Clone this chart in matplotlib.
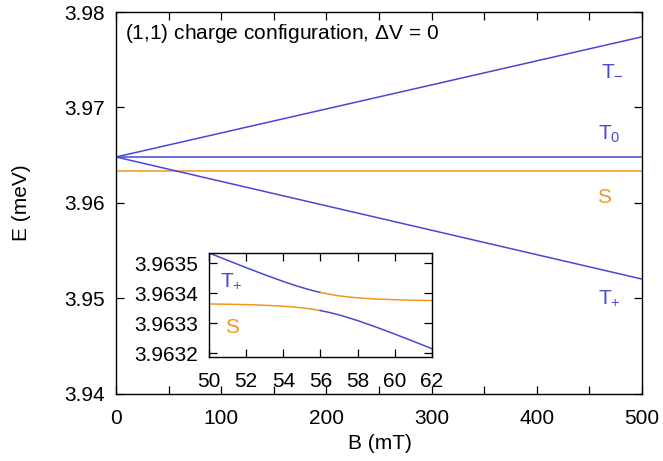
import numpy as np
import matplotlib
matplotlib.use('Agg')
import matplotlib.pyplot as plt
from matplotlib.ticker import MultipleLocator, FormatStrFormatter

plt.rcParams['font.family'] = ['Liberation Sans', 'DejaVu Sans']
plt.rcParams['mathtext.default'] = 'regular'

BLUE = '#4848d4'
ORANGE = '#f2961e'

# main panel: energies of the four (1,1) states versus field
b_main = [0, 500]
e_tminus = [3.96480, 3.97740]
e_t0 = [3.96478, 3.96478]
e_s = [3.96335, 3.96335]
e_tplus = [3.96480, 3.95200]

# inset: anticrossing of T+ and S near 56 mT
b_inset = [50, 51, 52, 53, 54, 54.5, 55, 55.5, 56, 56.5, 57, 57.5, 58, 59, 60, 61, 62]
e_upper = [3.9635342, 3.9635096, 3.9634853, 3.9634617, 3.9634393, 3.9634288,
           3.9634191, 3.9634103, 3.9634027, 3.9633964, 3.9633915, 3.9633877,
           3.9633848, 3.9633809, 3.9633785, 3.9633769, 3.9633758]
e_lower = [3.9633645, 3.9633636, 3.9633622, 3.9633602, 3.9633570, 3.9633547,
           3.9633517, 3.9633476, 3.9633425, 3.9633359, 3.9633281, 3.9633190,
           3.9633091, 3.9632874, 3.9632642, 3.9632402, 3.9632157]
b_switch = 56

FS = 15

fig = plt.figure(figsize=(6.63, 4.61), dpi=100)
ax = fig.add_axes([0.175, 0.1464, 0.7933, 0.8275])

ax.plot(b_main, e_tminus, color=BLUE, lw=1.1)
ax.plot(b_main, e_t0, color=BLUE, lw=1.1)
ax.plot(b_main, e_s, color=ORANGE, lw=1.1)
ax.plot(b_main, e_tplus, color=BLUE, lw=1.1)

ax.set_xlim(0, 500)
ax.set_ylim(3.94, 3.98)
ax.xaxis.set_major_locator(MultipleLocator(100))
ax.xaxis.set_minor_locator(MultipleLocator(50))
ax.yaxis.set_major_locator(MultipleLocator(0.01))
ax.yaxis.set_major_formatter(FormatStrFormatter('%.2f'))
ax.tick_params(which='both', direction='in', top=True, right=True,
               labelsize=FS, width=0.9, length=6)
ax.tick_params(axis='x', pad=11)
ax.tick_params(axis='y', pad=8)
for s in ax.spines.values():
    s.set_linewidth(1.0)

ax.text(0.018, 0.945, '(1,1) charge configuration, $\\Delta$V = 0',
        transform=ax.transAxes, fontsize=FS, va='center', ha='left')
ax.text(0.922, 0.835, '$T_{-}$', transform=ax.transAxes, color=BLUE,
        fontsize=FS, va='baseline')
ax.text(0.916, 0.6645, '$T_{0}$', transform=ax.transAxes, color=BLUE,
        fontsize=FS, va='baseline')
ax.text(0.914, 0.499, 'S', transform=ax.transAxes, color=ORANGE,
        fontsize=FS, va='baseline')
ax.text(0.916, 0.2346, '$T_{+}$', transform=ax.transAxes, color=BLUE,
        fontsize=FS, va='baseline')

fig.text(0.573, 0.039, 'B (mT)', fontsize=FS, ha='center', va='center')
fig.text(0.033, 0.56, 'E (meV)', fontsize=FS, ha='center', va='center',
         rotation=90)

# inset
ins = fig.add_axes([0.3152, 0.2256, 0.3363, 0.2256])
b = np.array(b_inset)
up = np.array(e_upper)
lo = np.array(e_lower)
left = b <= b_switch
right = b >= b_switch
ins.plot(b[left], up[left], color=BLUE, lw=1.1)
ins.plot(b[right], up[right], color=ORANGE, lw=1.1)
ins.plot(b[left], lo[left], color=ORANGE, lw=1.1)
ins.plot(b[right], lo[right], color=BLUE, lw=1.1)

ins.set_xlim(50, 62)
ins.set_ylim(3.963188, 3.963534)
ins.xaxis.set_major_locator(MultipleLocator(2))
ins.yaxis.set_major_locator(MultipleLocator(0.0001))
ins.yaxis.set_major_formatter(FormatStrFormatter('%.4f'))
ins.tick_params(which='both', direction='in', top=True, right=True,
                labelsize=FS, length=6, width=0.9)
ins.tick_params(axis='x', pad=11)
ins.tick_params(axis='y', pad=8)
for s in ins.spines.values():
    s.set_linewidth(1.0)

ins.text(0.049, 0.673, '$T_{+}$', transform=ins.transAxes, color=BLUE,
         fontsize=FS, va='baseline')
ins.text(0.072, 0.231, 'S', transform=ins.transAxes, color=ORANGE,
         fontsize=FS, va='baseline')

fig.savefig('out.png', dpi=100)
